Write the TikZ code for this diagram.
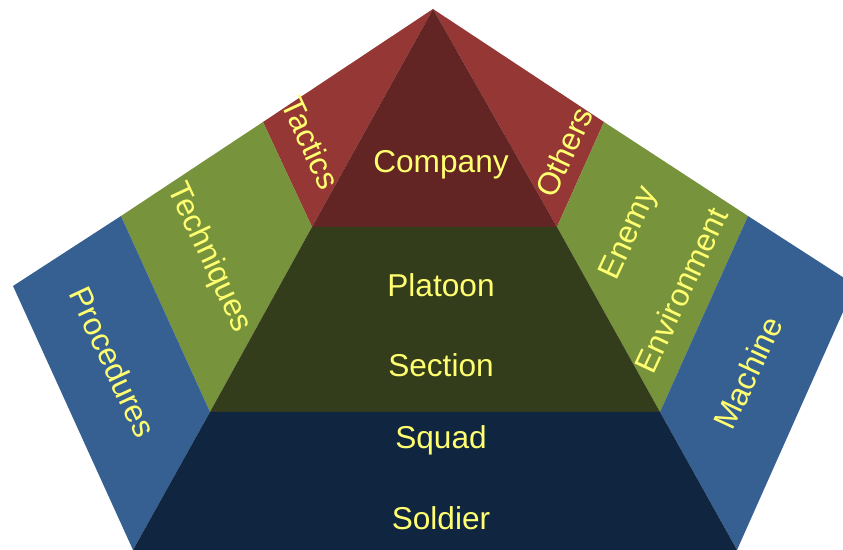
\documentclass[tikz,border=0pt]{standalone}
\usepackage{fontspec}
\setmainfont{Liberation Sans}
\definecolor{sidered}{HTML}{953735}
\definecolor{coyred}{HTML}{632523}
\definecolor{sidegreen}{HTML}{77933C}
\definecolor{pltgreen}{HTML}{333D1B}
\definecolor{sideblue}{HTML}{376092}
\definecolor{sqdnavy}{HTML}{10253F}
\definecolor{lblyellow}{HTML}{FFFF70}
\tikzset{
	lbl/.style={text=lblyellow, font=\fontsize{18}{20}\selectfont, inner sep=0pt},
	lblleft/.style={lbl, rotate=-65},
	lblright/.style={lbl, rotate=65}
}
\begin{document}
\begin{tikzpicture}[x=0.02cm, y=-0.02cm]
		\useasboundingbox (0,0) rectangle (843,550);
		\clip (0,0) rectangle (843,550);
		\coordinate (apex) at (433,9);
		\coordinate (lt) at (312,227);
		\coordinate (lm) at (210,412);
		\coordinate (lb) at (133,550);
		\coordinate (rt) at (557,227);
		\coordinate (rm) at (660,412);
		\coordinate (rb) at (737,550);
		\coordinate (olt) at (263,122);
		\coordinate (olm) at (121,216);
		\coordinate (olb) at (13,286);
		\coordinate (ort) at (604,122);
		\coordinate (orm) at (748,216);
		\coordinate (orb) at (855,285);
		\fill[sidered] (apex) -- (olt) -- (lt) -- cycle;
		\fill[sidered] (apex) -- (ort) -- (rt) -- cycle;
		\fill[sidegreen] (olt) -- (olm) -- (lm) -- (lt) -- cycle;
		\fill[sidegreen] (ort) -- (orm) -- (rm) -- (rt) -- cycle;
		\fill[sideblue] (olm) -- (olb) -- (lb) -- (lm) -- cycle;
		\fill[sideblue] (orm) -- (orb) -- (rb) -- (rm) -- cycle;
		\fill[coyred] (apex) -- (lt) -- (rt) -- cycle;
		\fill[pltgreen] (lt) -- (lm) -- (rm) -- (rt) -- cycle;
		\fill[sqdnavy] (lm) -- (lb) -- (rb) -- (rm) -- cycle;
		\node[lbl, anchor=base] (company) at (441,173) {Company};
		\node[lbl, anchor=base] (platoon) at (441,297) {Platoon};
		\node[lbl, anchor=base] (section) at (441,377) {Section};
		\node[lbl, anchor=base] (squad) at (441,449) {Squad};
		\node[lbl, anchor=base] (soldier) at (441,530) {Soldier};
		\node[lblleft] (tactics) at (311,143) {Tactics};
		\node[lblleft] (techniques) at (209,258) {Techniques};
		\node[lblleft] (procedures) at (113,362) {Procedures};
		\node[lblright] (others) at (564,152) {Others};
		\node[lblright] (enemy) at (630,234) {Enemy};
		\node[lblright] (environment) at (681,290) {Environment};
		\node[lblright] (machine) at (748,373) {Machine};
	\end{tikzpicture}
\end{document}
